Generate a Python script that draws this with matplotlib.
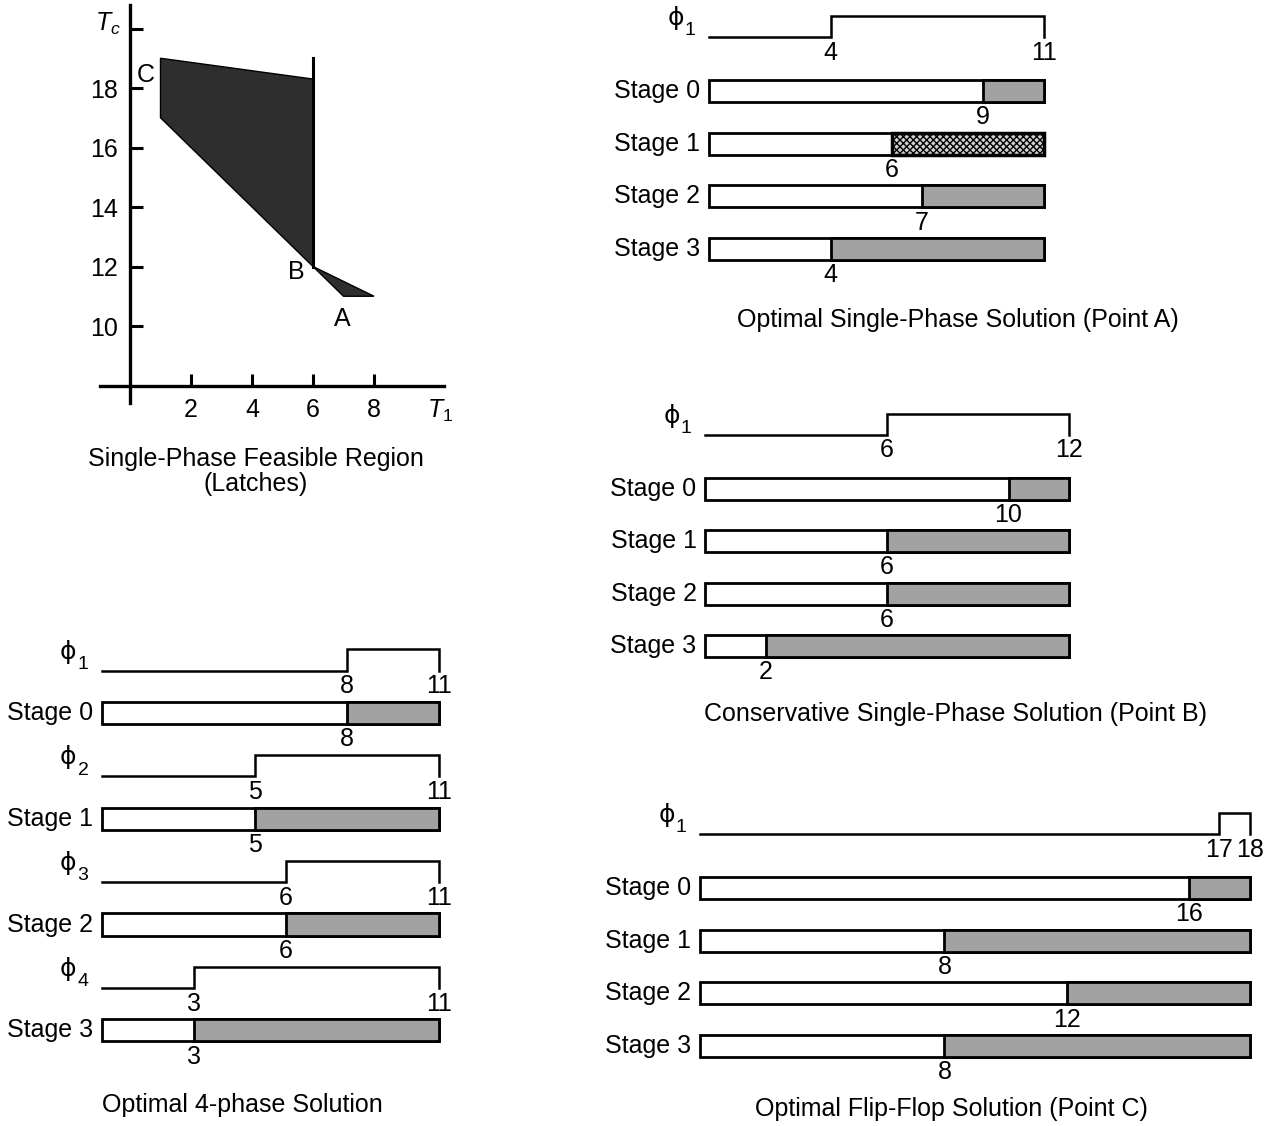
import matplotlib.pyplot as plt

plt.rcParams['font.family'] = ['Liberation Sans', 'DejaVu Sans']
plt.rcParams['mathtext.fontset'] = 'custom'
plt.rcParams['mathtext.it'] = 'Liberation Sans:italic'
plt.rcParams['mathtext.rm'] = 'Liberation Sans'
plt.rcParams['hatch.linewidth'] = 1.0

W, H = 1276, 1126

# feasible region (T1, Tc)
region_t1 = [1, 6, 6, 8, 7, 1]
region_tc = [19, 18.3, 12, 11, 11, 17]
edge_t1 = [6, 6]
edge_tc = [12, 19]
point_names = ['A', 'B', 'C']
point_t1 = [6.95, 5.45, 0.5]
point_tc = [10.25, 11.8, 18.45]

# optimal single phase (point A)
a_rise, a_period = 4, 11
a_split = [9, 6, 7, 4]
# conservative single phase (point B)
b_rise, b_period = 6, 12
b_split = [10, 6, 6, 2]
# flip-flop (point C)
c_rise, c_period = 17, 18
c_split = [16, 8, 12, 8]
# 4-phase
d_rise = [8, 5, 6, 3]
d_period = 11
d_split = [8, 5, 6, 3]

GRAY = '#a2a2a2'
FS = 18

fig = plt.figure(figsize=(W / 100, H / 100), dpi=100)


def panel(t0, y0, tmax, rmin, rmax, scale, pitch):
    tmin = -4
    left = t0 + tmin * scale
    ax = fig.add_axes([left / W, 1 - (y0 + rmax * pitch) / H,
                       (tmax + 1 - tmin) * scale / W, (rmax - rmin) * pitch / H])
    ax.set_xlim(tmin, tmax + 1)
    ax.set_ylim(rmax, rmin)
    ax.axis('off')
    return ax


def clock(ax, r, rise, period, idx):
    lo, hi = r + 0.2, r - 0.2
    ax.plot([0, rise, rise, period, period], [lo, lo, hi, hi, lo],
            color='black', lw=1.8, solid_joinstyle='miter')
    ax.text(-1.1, r - 0.16, '\u03d5', ha='center', va='center', fontsize=18,
            family='DejaVu Sans')
    ax.text(-0.62, r + 0.08, str(idx), ha='center', va='center', fontsize=14)
    ax.text(rise, r + 0.5, str(rise), ha='center', va='center', fontsize=FS)
    ax.text(period, r + 0.5, str(period), ha='center', va='center', fontsize=FS)


def stage(ax, r, split, end, k, dense=False):
    ax.barh(r, end, height=0.42, left=0, color='white', edgecolor='black', lw=2)
    if dense:
        ax.barh(r, end - split, height=0.42, left=split, color='#d0d0d0',
                edgecolor='black', lw=2.5, hatch='xxxxx')
    else:
        ax.barh(r, end - split, height=0.42, left=split, color=GRAY,
                edgecolor='black', lw=2)
    ax.text(-0.28, r, 'Stage %d' % k, ha='right', va='center', fontsize=FS)
    ax.text(split, r + 0.5, str(split), ha='center', va='center', fontsize=FS)


# feasible region plot
sc_x, sc_y = 30.5, 29.75
ax = fig.add_axes([(130 - 1 * sc_x) / W, 1 - (326 + 2.6 * sc_y) / H,
                   11.3 * sc_x / W, 13.4 * sc_y / H])
ax.set_xlim(-1, 10.3)
ax.set_ylim(7.4, 20.8)
ax.fill(region_t1, region_tc, facecolor='#2e2e2e', edgecolor='black', lw=1)
ax.plot(edge_t1, edge_tc, color='black', lw=2.2)
for name, x, y in zip(point_names, point_t1, point_tc):
    ax.text(x, y, name, ha='center', va='center', fontsize=FS)
for s in ['top', 'right']:
    ax.spines[s].set_visible(False)
ax.spines['left'].set_position(('data', 0))
ax.spines['bottom'].set_position(('data', 8))
for s in ['left', 'bottom']:
    ax.spines[s].set_linewidth(2.4)
ax.set_xticks([2, 4, 6, 8])
ax.set_yticks([10, 12, 14, 16, 18, 20])
ax.set_yticklabels(['10', '12', '14', '16', '18', ''])
ax.tick_params(direction='in', length=9, width=2.2, labelsize=FS, pad=9)
ax.text(-0.72, 20.15, '$T_c$', ha='center', va='center', fontsize=FS)
ax.text(10.15, 7.15, '$T_1$', ha='center', va='center', fontsize=FS)
ax.patch.set_visible(False)
fig.text(256 / W, 1 - 459 / H, 'Single-Phase Feasible Region', ha='center',
         va='center', fontsize=FS)
fig.text(256 / W, 1 - 484 / H, '(Latches)', ha='center', va='center', fontsize=FS)

# point A
ax = panel(709, 91, a_period, -2, 4, 30.45, 52.7)
clock(ax, -1.23, a_rise, a_period, 1)
for k, s in enumerate(a_split):
    stage(ax, k, s, a_period, k, dense=(k == 1))
fig.text(958 / W, 1 - 320 / H, 'Optimal Single-Phase Solution (Point A)',
         ha='center', va='center', fontsize=FS)

# point B
ax = panel(705, 489, b_period, -2, 4, 30.35, 52.3)
clock(ax, -1.24, b_rise, b_period, 1)
for k, s in enumerate(b_split):
    stage(ax, k, s, b_period, k)
fig.text(955 / W, 1 - 714 / H, 'Conservative Single-Phase Solution (Point B)',
         ha='center', va='center', fontsize=FS)

# point C
ax = panel(700, 888, c_period, -2, 4, 30.55, 52.7)
clock(ax, -1.22, c_rise, c_period, 1)
for k, s in enumerate(c_split):
    stage(ax, k, s, c_period, k)
fig.text(951 / W, 1 - 1109 / H, 'Optimal Flip-Flop Solution (Point C)',
         ha='center', va='center', fontsize=FS)

# 4-phase
ax = panel(102, 660, d_period, -1, 8, 30.6, 52.9)
for k in range(4):
    clock(ax, 2 * k, d_rise[k], d_period, k + 1)
    stage(ax, 2 * k + 1, d_split[k], d_period, k)
fig.text(242 / W, 1 - 1105 / H, 'Optimal 4-phase Solution', ha='center',
         va='center', fontsize=FS)

fig.savefig('out.png', dpi=100)
